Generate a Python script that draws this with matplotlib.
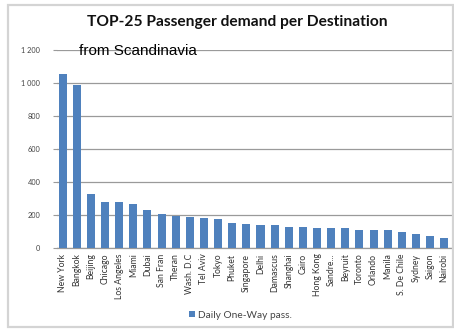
import matplotlib.pyplot as plt
from matplotlib.patches import Rectangle

cities = [
    "New York", "Bangkok", "Beijing", "Chicago", "Los Angeles", "Miami",
    "Dubai", "San Fran", "Theran", "Wash. D.C", "Tel Aviv", "Tokyo",
    "Phuket", "Singapore", "Delhi", "Damascus", "Shanghai", "Cairo",
    "Hong Kong", "Sandre...", "Beyruit", "Toronto", "Orlando", "Manila",
    "S. De Chile", "Sydney", "Saigon", "Nairobi",
]
daily_pass = [
    1054, 986, 325, 279, 277, 265,
    232, 204, 196, 190, 184, 178,
    154, 148, 139, 137, 125, 125,
    124, 124, 124, 109, 107, 107,
    95, 85, 71, 62,
]
y_ticks = [0, 200, 400, 600, 800, 1000, 1200]
y_labels = ["0", "200", "400", "600", "800", "1 000", "1 200"]

bar_color = "#4f81bd"
grid_color = "#9a9a9a"

fig = plt.figure(figsize=(4.54, 3.30), dpi=100)
fig.patch.set_facecolor("white")

# chart area frame
fig.add_artist(Rectangle((8 / 454, 3 / 330), 445 / 454, 322 / 330,
                         transform=fig.transFigure, fill=False,
                         edgecolor="#d4d4d4", linewidth=1.6))

ax = fig.add_axes([57 / 454, 82 / 330, 395 / 454, 198 / 330])
x = range(len(cities))
ax.bar(x, daily_pass, width=0.57, color=bar_color, zorder=3,
       label="Daily One-Way pass.")

ax.set_ylim(0, 1200)
ax.set_xlim(-0.4, len(cities) - 0.45)
ax.set_yticks(y_ticks)
ax.set_yticklabels(y_labels, fontsize=5.3, color="#444444", family="Lato")
ax.set_xticks(list(x))
ax.set_xticklabels(cities, rotation=90, fontsize=6.2, color="#333333",
                   family="Lato", va="top")
ax.tick_params(axis="y", length=3, color=grid_color, pad=9)
ax.tick_params(axis="x", length=0, pad=4)
ax.yaxis.grid(True, color=grid_color, linewidth=0.9, zorder=0)
for side in ["top", "right", "left"]:
    ax.spines[side].set_visible(False)
ax.spines["bottom"].set_color(grid_color)
ax.spines["bottom"].set_linewidth(0.9)

fig.text(237 / 454, 1 - 22 / 330, "TOP-25 Passenger demand per Destination",
         ha="center", va="center", fontsize=11.2, fontweight="bold",
         family="Lato", color="#111111")
fig.text(79 / 454, 1 - 51 / 330, "from Scandinavia", ha="left",
         va="center", fontsize=11, family="Liberation Sans", color="black")

fig.legend(loc="center", bbox_to_anchor=(240 / 454, 1 - 315 / 330),
           frameon=False, handlelength=0.6, handleheight=0.6,
           handletextpad=0.3, prop={"family": "Lato", "size": 7.3},
           labelcolor="#444444")

fig.savefig("out.png", dpi=100)
